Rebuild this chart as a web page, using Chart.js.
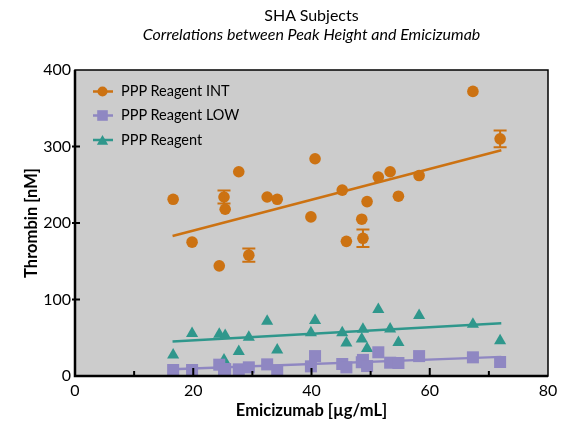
<!DOCTYPE html>
<html>
<head>
<meta charset="utf-8">
<script src="https://cdn.jsdelivr.net/npm/chart.js@4.4.1/dist/chart.umd.min.js"></script>
<style>
    html, body { margin: 0; padding: 0; background: #fff; }
</style>
</head>
<body>
<canvas id="chart1" width="569" height="427"></canvas>
<script>
// SHA subjects - peak height vs emicizumab

const emicizumab = [16.6, 19.8, 24.4, 25.2, 25.4, 27.7, 29.4, 32.5, 34.2, 39.9, 40.6,
                    45.2, 45.9, 48.5, 48.7, 49.4, 51.3, 53.3, 54.7, 58.2, 67.3, 71.9];
const reagentInt = [231, 175, 144, 234, 218, 267, 158, 234, 231, 208, 284,
                    243, 176, 205, 180, 228, 260, 267, 235, 262, 372, 310];
const reagentIntErr = [0, 0, 0, 8.5, 0, 0, 8.8, 0, 0, 0, 0,
                       0, 0, 0, 11.5, 0, 0, 0, 0, 0, 0, 11];
const reagentLow = [7.8, 7.8, 14.8, 9, 9, 8.7, 11.3, 15.2, 7.4, 12.6, 26,
                    15.7, 11.3, 18, 21, 13, 31, 17.4, 17, 26, 24.4, 18.3];
const reagentNone = [27.6, 55.5, 54.6, 21, 53, 32, 50.7, 71.6, 34, 56.4, 72.5,
                     56.5, 43, 48.5, 61, 36, 87, 61.5, 43.7, 79, 67.7, 46];

// fitted lines (start / end)
const fitX = [16.5, 72.1];
const fitInt = [183, 295];
const fitLow = [8.7, 25];
const fitNone = [45, 68.8];

const seriesNames = ['PPP\u00a0Reagent\u00a0INT', 'PPP\u00a0Reagent\u00a0LOW', 'PPP\u00a0Reagent'];
const xTicks = [0, 20, 40, 60, 80];
const yTicks = [0, 100, 200, 300, 400];

const ORANGE = '#cc7212';
const PURPLE = '#8f87c2';
const TEAL = '#2f978c';
const FONT = 'Lato, "Open Sans", sans-serif';

function pts(xs, ys) {
    return xs.map((x, i) => ({ x: x, y: ys[i] }));
}

// grey plot background + frame + inside ticks
const framePlugin = {
    id: 'frame',
    beforeDatasetsDraw(chart) {
        const a = chart.chartArea;
        const ctx = chart.ctx;
        ctx.save();
        ctx.fillStyle = '#cccccc';
        ctx.fillRect(a.left, a.top, a.right - a.left, a.bottom - a.top);
        ctx.restore();
    },
    afterDatasetsDraw(chart) {
        const a = chart.chartArea;
        const ctx = chart.ctx;
        const xs = chart.scales.x;
        const ys = chart.scales.y;
        ctx.save();
        ctx.strokeStyle = '#000';
        ctx.lineWidth = 1.5;
        ctx.strokeRect(a.left, a.top, a.right - a.left, a.bottom - a.top);
        ctx.lineWidth = 2.5;
        ctx.beginPath();
        ctx.moveTo(a.left, a.top);
        ctx.lineTo(a.left, a.bottom);
        ctx.lineTo(a.right, a.bottom);
        ctx.stroke();
        ctx.lineWidth = 2;
        ctx.beginPath();
        for (let v = 10; v < 80; v += 10) {
            const px = xs.getPixelForValue(v);
            const len = v % 20 === 0 ? 8 : 5;
            ctx.moveTo(px, a.bottom);
            ctx.lineTo(px, a.bottom - len);
        }
        yTicks.slice(1, -1).forEach(v => {
            const py = ys.getPixelForValue(v);
            ctx.moveTo(a.left - 3, py);
            ctx.lineTo(a.left + 5, py);
        });
        ctx.stroke();
        ctx.restore();
    }
};

// error bars on the INT series
const errorBarPlugin = {
    id: 'errorBars',
    afterDatasetsDraw(chart) {
        const ctx = chart.ctx;
        const xs = chart.scales.x;
        const ys = chart.scales.y;
        ctx.save();
        ctx.strokeStyle = ORANGE;
        ctx.lineWidth = 2;
        reagentIntErr.forEach((e, i) => {
            if (!e) return;
            const px = xs.getPixelForValue(emicizumab[i]);
            const top = ys.getPixelForValue(reagentInt[i] + e);
            const bot = ys.getPixelForValue(reagentInt[i] - e);
            ctx.beginPath();
            ctx.moveTo(px, top);
            ctx.lineTo(px, bot);
            ctx.moveTo(px - 6.5, top);
            ctx.lineTo(px + 6.5, top);
            ctx.moveTo(px - 6.5, bot);
            ctx.lineTo(px + 6.5, bot);
            ctx.stroke();
        });
        ctx.restore();
    }
};

// titles + legend with line and marker
const textPlugin = {
    id: 'texts',
    afterDraw(chart) {
        const a = chart.chartArea;
        const ctx = chart.ctx;
        const cx = (a.left + a.right) / 2;
        ctx.save();
        ctx.fillStyle = '#000';
        ctx.textAlign = 'center';
        ctx.textBaseline = 'middle';
        ctx.font = '16px ' + FONT;
        ctx.fillText('SHA\u00a0Subjects', cx, 16);
        ctx.font = 'italic 16px ' + FONT;
        ctx.fillText('Correlations\u00a0between\u00a0Peak\u00a0Height\u00a0and\u00a0Emicizumab', cx, 35);

        const styles = [
            { color: ORANGE, style: 'circle', r: 5 },
            { color: PURPLE, style: 'rect', r: 7.5 },
            { color: TEAL, style: 'triangle', r: 6.5 }
        ];
        const rows = [91.5, 115.5, 140];
        ctx.textAlign = 'left';
        ctx.font = '14.5px ' + FONT;
        styles.forEach((s, i) => {
            const y = rows[i];
            ctx.strokeStyle = s.color;
            ctx.lineWidth = 2.5;
            ctx.beginPath();
            ctx.moveTo(93, y);
            ctx.lineTo(113, y);
            ctx.stroke();
            ctx.fillStyle = s.color;
            Chart.helpers.drawPoint(ctx, { pointStyle: s.style, radius: s.r, borderWidth: 0, rotation: 0 }, 102.5, y + (s.style === 'triangle' ? 1.5 : 0));
            ctx.fillStyle = '#000';
            ctx.fillText(seriesNames[i], 121, y);
        });
        ctx.restore();
    }
};

function fitLine(ys, color) {
    return {
        type: 'line',
        data: pts(fitX, ys),
        borderColor: color,
        borderWidth: 2.5,
        pointRadius: 0,
        showLine: true,
        fill: false
    };
}

let chart1 = new Chart(document.getElementById('chart1'), {
    type: 'scatter',
    data: {
        datasets: [
            {
                label: seriesNames[0],
                data: pts(emicizumab, reagentInt),
                backgroundColor: ORANGE,
                borderWidth: 0,
                pointStyle: 'circle',
                pointRadius: 5.8,
                clip: false
            },
            {
                label: seriesNames[1],
                data: pts(emicizumab, reagentLow),
                backgroundColor: PURPLE,
                borderWidth: 0,
                pointStyle: 'rect',
                pointRadius: 8.5,
                clip: false
            },
            {
                label: seriesNames[2],
                data: pts(emicizumab, reagentNone),
                backgroundColor: TEAL,
                borderWidth: 0,
                pointStyle: 'triangle',
                pointRadius: 7,
                clip: false
            },
            fitLine(fitInt, ORANGE),
            fitLine(fitLow, PURPLE),
            fitLine(fitNone, TEAL)
        ]
    },
    options: {
        responsive: false,
        animation: false,
        events: [],
        layout: { padding: { top: 70, right: 21, bottom: 0, left: 0 } },
        plugins: {
            legend: { display: false },
            tooltip: { enabled: false }
        },
        scales: {
            x: {
                type: 'linear',
                min: 0,
                max: 80,
                afterBuildTicks: s => { s.ticks = xTicks.map(v => ({ value: v })); },
                afterFit: s => { s.height = 51; },
                grid: { display: false, drawTicks: false },
                border: { display: false },
                ticks: { color: '#000', padding: 5, font: { family: FONT, size: 16 } },
                title: {
                    display: true,
                    text: 'Emicizumab\u00a0[µg/mL]',
                    color: '#000',
                    padding: { top: 0, bottom: 6 },
                    font: { family: FONT, size: 16.5, weight: 'bold' }
                }
            },
            y: {
                type: 'linear',
                min: 0,
                max: 400,
                afterBuildTicks: s => { s.ticks = yTicks.map(v => ({ value: v })); },
                afterFit: s => { s.width = 75; },
                grid: { display: false, drawTicks: false },
                border: { display: false },
                ticks: { color: '#000', padding: 4, font: { family: FONT, size: 16 } },
                title: {
                    display: true,
                    text: 'Thrombin\u00a0[nM]',
                    color: '#000',
                    padding: { top: 22, bottom: 0 },
                    font: { family: FONT, size: 16.5, weight: 'bold' }
                }
            }
        }
    },
    plugins: [framePlugin, errorBarPlugin, textPlugin]
});
</script>
</body>
</html>
